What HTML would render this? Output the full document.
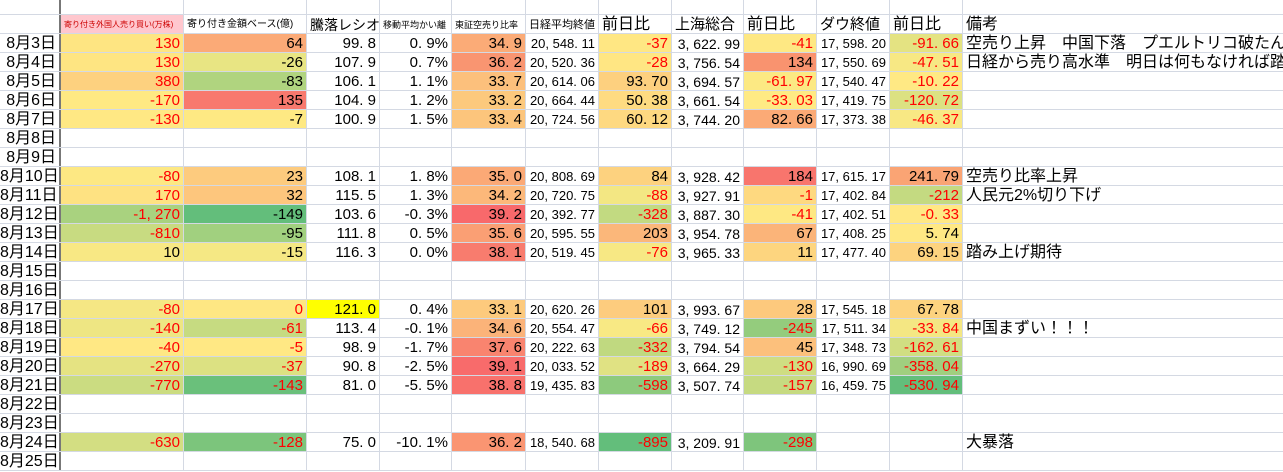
<!DOCTYPE html>
<html><head><meta charset="utf-8"><style>
body{margin:0;width:1283px;height:458px;overflow:hidden;background:#fff;font-family:"Liberation Sans","Noto Sans CJK JP",sans-serif;color:#000}
.r{display:flex;height:19px;box-sizing:border-box;border-bottom:1px solid #d4d9e3;white-space:nowrap}
.r>span{box-sizing:border-box;border-right:1px solid #d4d9e3;height:18px;line-height:20px;font-size:15px;text-align:right;padding-right:3px;overflow:visible}
.r>span:nth-child(1){width:61px;border-right:2px solid #777;font-size:16px}
.r>span:nth-child(2){width:123px}
.r>span:nth-child(3){width:123px}
.r>span:nth-child(4){width:73px}
.r>span:nth-child(5){width:72px}
.r>span:nth-child(6){width:74px}
.r>span:nth-child(7){width:73px;font-size:13px}
.r>span:nth-child(8){width:73px}
.r>span:nth-child(9){width:72px;font-size:14px}
.r>span:nth-child(10){width:73px}
.r>span:nth-child(11){width:73px;font-size:13px}
.r>span:nth-child(12){width:73px}
.r>span:nth-child(13){width:320px;text-align:left;padding-left:3px;border-right:none;font-size:16px}
.h>span{text-align:left;padding-left:3px}
.red{color:#f00}
.top{height:15px}
.top>span{height:14px}
</style></head><body>
<div class="r top"><span></span><span></span><span></span><span></span><span></span><span></span><span></span><span></span><span></span><span></span><span></span><span></span><span></span></div>
<div class="r h"><span></span><span style="background:#ffc7ce;color:#c00;font-size:8px">寄り付き外国人売り買い(万株)</span><span style="font-size:10px">寄り付き金額ベース(億)</span><span style="font-size:14px">騰落レシオ</span><span style="font-size:9px">移動平均かい離</span><span style="font-size:9px">東証空売り比率</span><span style="font-size:11px">日経平均終値</span><span style="font-size:16px">前日比</span><span style="font-size:15px">上海総合</span><span style="font-size:16px">前日比</span><span style="font-size:15px">ダウ終値</span><span style="font-size:16px">前日比</span><span style="font-size:16px">備考</span></div>

<div class="r"><span>8月3日</span><span class="red" style="background:#fee582">130</span><span style="background:#fbaa77">64</span><span>99. 8</span><span>0. 9%</span><span style="background:#fbab77">34. 9</span><span>20, 548. 11</span><span class="red" style="background:#ffe783">-37</span><span>3, 622. 99</span><span class="red" style="background:#fee883">-41</span><span>17, 598. 20</span><span class="red" style="background:#e4e382">-91. 66</span><span>空売り上昇　中国下落　プエルトリコ破たん</span></div>
<div class="r"><span>8月4日</span><span class="red" style="background:#fee582">130</span><span style="background:#e8e583">-26</span><span>107. 9</span><span>0. 7%</span><span style="background:#f99571">36. 2</span><span>20, 520. 36</span><span class="red" style="background:#ffe683">-28</span><span>3, 756. 54</span><span style="background:#f9936f">134</span><span>17, 550. 69</span><span class="red" style="background:#f7e884">-47. 51</span><span>日経から売り高水準　明日は何もなければ踏</span></div>
<div class="r"><span>8月5日</span><span class="red" style="background:#fdd17f">380</span><span style="background:#b0d47f">-83</span><span>106. 1</span><span>1. 1%</span><span style="background:#fcc07c">33. 7</span><span>20, 614. 06</span><span style="background:#fdd07f">93. 70</span><span>3, 694. 57</span><span class="red" style="background:#fce983">-61. 97</span><span>17, 540. 47</span><span class="red" style="background:#ffe984">-10. 22</span><span></span></div>
<div class="r"><span>8月6日</span><span class="red" style="background:#ffe983">-170</span><span style="background:#f8796e">135</span><span>104. 9</span><span>1. 2%</span><span style="background:#fcc97d">33. 2</span><span>20, 664. 44</span><span style="background:#fedb81">50. 38</span><span>3, 661. 54</span><span class="red" style="background:#ffea84">-33. 03</span><span>17, 419. 75</span><span class="red" style="background:#dce182">-120. 72</span><span></span></div>
<div class="r"><span>8月7日</span><span class="red" style="background:#ffe884">-130</span><span style="background:#fee983">-7</span><span>100. 9</span><span>1. 5%</span><span style="background:#fcc57c">33. 4</span><span>20, 724. 56</span><span style="background:#fed981">60. 12</span><span>3, 744. 20</span><span style="background:#fbaa76">82. 66</span><span>17, 373. 38</span><span class="red" style="background:#f8e884">-46. 37</span><span></span></div>
<div class="r"><span>8月8日</span><span></span><span></span><span></span><span></span><span></span><span></span><span></span><span></span><span></span><span></span><span></span><span></span></div>
<div class="r"><span>8月9日</span><span></span><span></span><span></span><span></span><span></span><span></span><span></span><span></span><span></span><span></span><span></span><span></span></div>
<div class="r"><span>8月10日</span><span class="red" style="background:#fde883">-80</span><span style="background:#fdcb7e">23</span><span>108. 1</span><span>1. 8%</span><span style="background:#fba976">35. 0</span><span>20, 808. 69</span><span style="background:#fdd27f">84</span><span>3, 928. 42</span><span style="background:#f8756d">184</span><span>17, 615. 17</span><span style="background:#faa474">241. 79</span><span>空売り比率上昇</span></div>
<div class="r"><span>8月11日</span><span class="red" style="background:#fee282">170</span><span style="background:#fdc67d">32</span><span>115. 5</span><span>1. 3%</span><span style="background:#fcb87a">34. 2</span><span>20, 720. 75</span><span class="red" style="background:#f3e783">-88</span><span>3, 927. 91</span><span class="red" style="background:#fed980">-1</span><span>17, 402. 84</span><span class="red" style="background:#c4da81">-212</span><span>人民元2%切り下げ</span></div>
<div class="r"><span>8月12日</span><span class="red" style="background:#a9d27f">-1, 270</span><span style="background:#63be7b">-149</span><span>103. 6</span><span>-0. 3%</span><span style="background:#f8696b">39. 2</span><span>20, 392. 77</span><span class="red" style="background:#c2da81">-328</span><span>3, 887. 30</span><span class="red" style="background:#fee883">-41</span><span>17, 402. 51</span><span class="red" style="background:#ffe884">-0. 33</span><span></span></div>
<div class="r"><span>8月13日</span><span class="red" style="background:#c8db81">-810</span><span style="background:#a1d07f">-95</span><span>111. 8</span><span>0. 5%</span><span style="background:#fa9f74">35. 6</span><span>20, 595. 55</span><span style="background:#fbb77a">203</span><span>3, 954. 78</span><span style="background:#fbb479">67</span><span>17, 408. 25</span><span style="background:#ffe884">5. 74</span><span></span></div>
<div class="r"><span>8月14日</span><span style="background:#f8e884">10</span><span style="background:#f5e884">-15</span><span>116. 3</span><span>0. 0%</span><span style="background:#f87c6e">38. 1</span><span>20, 519. 45</span><span class="red" style="background:#f7e884">-76</span><span>3, 965. 33</span><span style="background:#fdd57f">11</span><span>17, 477. 40</span><span style="background:#fdd37f">69. 15</span><span>踏み上げ期待</span></div>
<div class="r"><span>8月15日</span><span></span><span></span><span></span><span></span><span></span><span></span><span></span><span></span><span></span><span></span><span></span><span></span></div>
<div class="r"><span>8月16日</span><span></span><span></span><span></span><span></span><span></span><span></span><span></span><span></span><span></span><span></span><span></span><span></span></div>
<div class="r"><span>8月17日</span><span class="red" style="background:#f5e784">-80</span><span class="red" style="background:#fee783">0</span><span style="background:#ffff00">121. 0</span><span>0. 4%</span><span style="background:#fdca7d">33. 1</span><span>20, 620. 26</span><span style="background:#fdcc7e">101</span><span>3, 993. 67</span><span style="background:#fdc97d">28</span><span>17, 545. 18</span><span style="background:#fdd37f">67. 78</span><span></span></div>
<div class="r"><span>8月18日</span><span class="red" style="background:#eee683">-140</span><span class="red" style="background:#c6db81">-61</span><span>113. 4</span><span>-0. 1%</span><span style="background:#fbb379">34. 6</span><span>20, 554. 47</span><span class="red" style="background:#f8e984">-66</span><span>3, 749. 12</span><span class="red" style="background:#94cc7d">-245</span><span>17, 511. 34</span><span class="red" style="background:#f4e783">-33. 84</span><span>中国まずい！！！</span></div>
<div class="r"><span>8月19日</span><span class="red" style="background:#ffe884">-40</span><span class="red" style="background:#ffe884">-5</span><span>98. 9</span><span>-1. 7%</span><span style="background:#f9846f">37. 6</span><span>20, 222. 63</span><span class="red" style="background:#c0d980">-332</span><span>3, 794. 54</span><span style="background:#fcc07c">45</span><span>17, 348. 73</span><span class="red" style="background:#d0de82">-162. 61</span><span></span></div>
<div class="r"><span>8月20日</span><span class="red" style="background:#e5e382">-270</span><span class="red" style="background:#dce182">-37</span><span>90. 8</span><span>-2. 5%</span><span style="background:#f86b6b">39. 1</span><span>20, 033. 52</span><span class="red" style="background:#e0e283">-189</span><span>3, 664. 29</span><span class="red" style="background:#cfdd82">-130</span><span>16, 990. 69</span><span class="red" style="background:#a0cf7f">-358. 04</span><span></span></div>
<div class="r"><span>8月21日</span><span class="red" style="background:#cbdc81">-770</span><span class="red" style="background:#6ac07b">-143</span><span>81. 0</span><span>-5. 5%</span><span style="background:#f8716c">38. 8</span><span>19, 435. 83</span><span class="red" style="background:#8dca7d">-598</span><span>3, 507. 74</span><span class="red" style="background:#c6da81">-157</span><span>16, 459. 75</span><span class="red" style="background:#63be7b">-530. 94</span><span></span></div>
<div class="r"><span>8月22日</span><span></span><span></span><span></span><span></span><span></span><span></span><span></span><span></span><span></span><span></span><span></span><span></span></div>
<div class="r"><span>8月23日</span><span></span><span></span><span></span><span></span><span></span><span></span><span></span><span></span><span></span><span></span><span></span><span></span></div>
<div class="r"><span>8月24日</span><span class="red" style="background:#d3de82">-630</span><span class="red" style="background:#7cc57c">-128</span><span>75. 0</span><span>-10. 1%</span><span style="background:#fa9572">36. 2</span><span>18, 540. 68</span><span class="red" style="background:#63be7b">-895</span><span>3, 209. 91</span><span class="red" style="background:#7ec57c">-298</span><span></span><span></span><span>大暴落</span></div>
<div class="r"><span>8月25日</span><span></span><span></span><span></span><span></span><span></span><span></span><span></span><span></span><span></span><span></span><span></span><span></span></div>
</body></html>
